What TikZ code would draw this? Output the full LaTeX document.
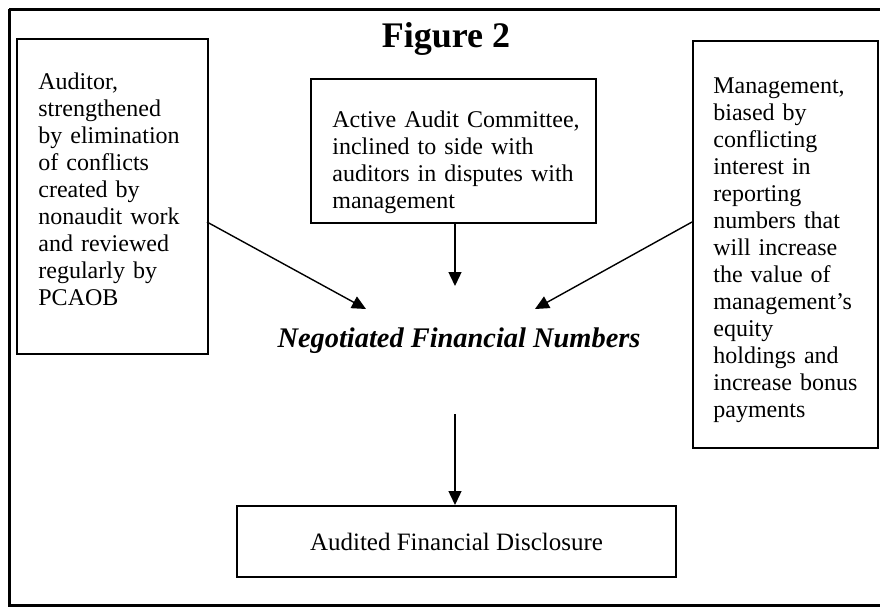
\documentclass[tikz,border=0pt]{standalone}
\usepackage{fontspec}
\setmainfont{Liberation Serif}
\usetikzlibrary{arrows.meta}
\tikzset{
  frame/.style={line width=1.5pt},
  boxed/.style={draw, line width=1pt, inner sep=0pt},
  body/.style={align=left, inner sep=0pt, anchor=north west,
    font=\fontsize{12pt}{13.5pt}\selectfont},
  conn/.style={line width=0.7pt, -{Triangle[length=7pt,width=6.5pt]}},
}
\begin{document}
\begin{tikzpicture}[x=0.5pt,y=-0.5pt]
\useasboundingbox (0,0) rectangle (880,607);
\draw[frame] (9,9) -- (881,9);
\draw[frame] (9,9) -- (9,605) -- (881,605);
% title
\node[font=\bfseries\fontsize{18pt}{21pt}\selectfont, anchor=base] (title) at (446,47) {Figure 2};
% left box
\node[boxed, minimum width=191pt*0.5, minimum height=315pt*0.5, anchor=north west] (aud) at (16,38) {};
\node[body, text width=170*0.5pt] (audt) at (38,72) {Auditor,\\ strengthened\\ by elimination\\ of conflicts\\ created by\\ nonaudit work\\ and reviewed\\ regularly by\\ PCAOB};
% center box
\node[boxed, minimum width=285pt*0.5, minimum height=144pt*0.5, anchor=north west] (com) at (310,78) {};
\node[body, text width=260*0.5pt] (comt) at (332,110) {Active Audit Committee,\\ inclined to side with\\ auditors in disputes with\\ management};
% right box
\node[boxed, minimum width=185pt*0.5, minimum height=407pt*0.5, anchor=north west] (mgt) at (692,40) {};
\node[body, text width=160*0.5pt] (mgtt) at (713,77) {Management,\\ biased by\\ conflicting\\ interest in\\ reporting\\ numbers that\\ will increase\\ the value of\\ management's\\ equity\\ holdings and\\ increase bonus\\ payments};
% negotiated
\node[font=\bfseries\itshape\fontsize{14.2pt}{16pt}\selectfont, inner sep=0pt, anchor=base] (neg) at (459,347) {Negotiated Financial Numbers};
% bottom box
\node[boxed, minimum width=439pt*0.5, minimum height=71pt*0.5, anchor=north west,
  font=\fontsize{12.5pt}{14pt}\selectfont] (disc) at (236,505) {Audited Financial Disclosure};
% connectors
\coordinate (a1) at (207,222);
\coordinate (a1t) at (366,309);
\coordinate (m1) at (692,222);
\coordinate (m1t) at (535,309);
\coordinate (c1) at (455,222);
\coordinate (c1t) at (455,286);
\coordinate (n1) at (455,414);
\draw[conn] (a1) -- (a1t);
\draw[conn] (m1) -- (m1t);
\draw[conn] (c1) -- (c1t);
\draw[conn] (n1) -- (n1 |- disc.north);
\end{tikzpicture}
\end{document}
